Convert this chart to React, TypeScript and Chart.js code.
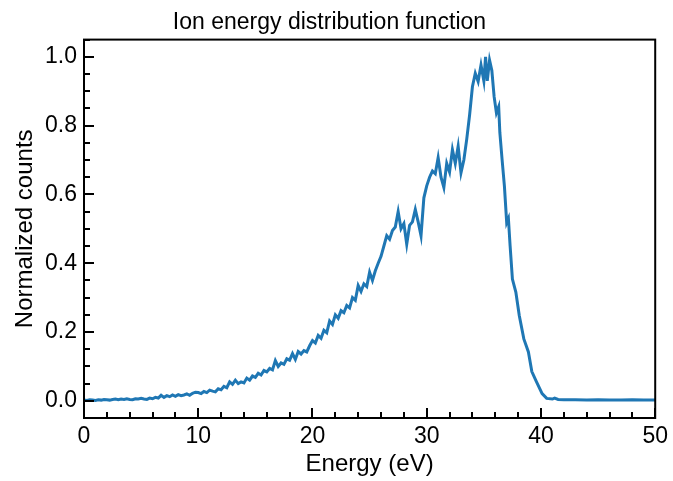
import React, { useEffect, useRef } from "react";
import { Chart, registerables } from "chart.js";

Chart.register(...registerables);

const titleText = "Ion energy distribution function";
const xLabel = "Energy (eV)";
const yLabel = "Normalized counts";

const xTicks = [0, 10, 20, 30, 40, 50];
const yTicks = [0.0, 0.2, 0.4, 0.6, 0.8, 1.0];

const energies = [
  0.0, 0.25, 0.5, 0.75, 1.0, 1.25, 1.5, 1.75, 2.0, 2.25, 2.5, 2.75, 3.0, 3.25, 3.5, 3.75,
  4.0, 4.25, 4.5, 4.75, 5.0, 5.25, 5.5, 5.75, 6.0, 6.25, 6.5, 6.75, 7.0, 7.25, 7.5, 7.75,
  8.0, 8.25, 8.5, 8.75, 9.0, 9.25, 9.5, 9.75, 10.0, 10.25, 10.5, 10.75, 11.0, 11.25, 11.5, 11.75,
  12.0, 12.25, 12.5, 12.75, 13.0, 13.25, 13.5, 13.75, 14.0, 14.25, 14.5, 14.75, 15.0, 15.25, 15.5, 15.75,
  16.0, 16.25, 16.5, 16.75, 17.0, 17.25, 17.5, 17.75, 18.0, 18.25, 18.5, 18.75, 19.0, 19.25, 19.5, 19.75,
  20.0, 20.25, 20.5, 20.75, 21.0, 21.25, 21.5, 21.75, 22.0, 22.25, 22.5, 22.75, 23.0, 23.25, 23.5, 23.75,
  24.0, 24.25, 24.5, 24.75, 25.0, 25.25, 25.5, 25.75, 26.0, 26.25, 26.5, 26.75, 27.0, 27.25, 27.5, 27.75,
  28.0, 28.25, 28.5, 28.75, 29.0, 29.25, 29.5, 29.75, 30.0, 30.25, 30.5, 30.75, 31.0, 31.25, 31.5, 31.75,
  32.0, 32.25, 32.5, 32.75, 33.0, 33.25, 33.5, 33.75, 34.0, 34.25, 34.5, 34.75, 35.0, 35.15, 35.3, 35.5,
  35.7, 35.9, 36.1, 36.3, 36.4, 36.6, 36.8, 37.0, 37.15, 37.3, 37.5, 37.8, 38.1, 38.5, 38.9, 39.2,
  39.6, 40.1, 40.5, 41.0, 41.2, 41.5, 42.0, 43.0, 44.0, 45.0, 46.0, 47.0, 48.0, 49.0, 50.0,
];

const counts = [
  0.002, 0.001, 0.003, 0.002, 0.001, 0.003, 0.002, 0.004, 0.003, 0.002, 0.004, 0.005, 0.003, 0.005, 0.004, 0.006,
  0.004, 0.003, 0.006, 0.005, 0.007, 0.005, 0.004, 0.008, 0.006, 0.010, 0.008, 0.016, 0.010, 0.015, 0.012, 0.017,
  0.013, 0.018, 0.015, 0.017, 0.020, 0.016, 0.022, 0.025, 0.024, 0.021, 0.027, 0.024, 0.031, 0.028, 0.026, 0.035,
  0.032, 0.042, 0.038, 0.055, 0.048, 0.060, 0.050, 0.055, 0.052, 0.066, 0.060, 0.072, 0.068, 0.080, 0.075, 0.088,
  0.084, 0.094, 0.090, 0.117, 0.100, 0.110, 0.106, 0.122, 0.118, 0.137, 0.120, 0.143, 0.136, 0.146, 0.142, 0.160,
  0.175, 0.168, 0.190, 0.182, 0.205, 0.198, 0.232, 0.222, 0.250, 0.240, 0.262, 0.256, 0.277, 0.270, 0.300, 0.292,
  0.335, 0.318, 0.340, 0.332, 0.374, 0.350, 0.378, 0.400, 0.420, 0.450, 0.480, 0.470, 0.495, 0.505, 0.550, 0.500,
  0.515, 0.455, 0.510, 0.520, 0.556, 0.520, 0.480, 0.590, 0.625, 0.650, 0.668, 0.660, 0.707, 0.650, 0.620, 0.690,
  0.665, 0.730, 0.690, 0.740, 0.663, 0.700, 0.760, 0.830, 0.913, 0.952, 0.928, 0.976, 0.930, 1.000, 0.930, 0.990,
  0.960, 0.884, 0.837, 0.855, 0.780, 0.700, 0.624, 0.518, 0.530, 0.450, 0.354, 0.316, 0.248, 0.180, 0.142, 0.085,
  0.056, 0.021, 0.007, 0.005, 0.008, 0.004, 0.003, 0.003, 0.002, 0.003, 0.002, 0.002, 0.003, 0.002, 0.002,
];

const FONT = "'Liberation Sans', Arial, Helvetica, sans-serif";

const frameTicks = {
  id: "frameTicks",
  afterDatasetsDraw(chart: any) {
    const { ctx, chartArea, scales } = chart;
    const xs = scales.x;
    const ys = scales.y;
    ctx.save();
    ctx.strokeStyle = "#000";
    ctx.lineWidth = 2;
    ctx.beginPath();
    for (let v = 0; v <= 50 + 1e-9; v += 2) {
      const px = Math.round(xs.getPixelForValue(v));
      const major = Math.abs(v % 10) < 1e-9;
      const len = major ? 10 : 6;
      ctx.moveTo(px, chartArea.bottom);
      ctx.lineTo(px, chartArea.bottom - len);
    }
    for (let i = -1; i <= 21; i++) {
      const v = i * 0.05;
      const py = Math.round(ys.getPixelForValue(v));
      const major = i % 4 === 0;
      const len = major ? 10 : 6;
      ctx.moveTo(chartArea.left, py);
      ctx.lineTo(chartArea.left + len, py);
    }
    ctx.stroke();
    ctx.lineWidth = 2;
    ctx.strokeRect(chartArea.left, chartArea.top, chartArea.right - chartArea.left, chartArea.bottom - chartArea.top);
    ctx.restore();
  },
};

export default function App() {
  const ref = useRef<HTMLCanvasElement | null>(null);
  useEffect(() => {
    if (!ref.current) return;
    const points = energies.map((e, i) => ({ x: e, y: counts[i] }));
    const chart = new Chart(ref.current, {
      type: "line",
      data: {
        datasets: [
          {
            data: points,
            borderColor: "#1f77b4",
            borderWidth: 3,
            pointRadius: 0,
            tension: 0,
            fill: false,
          },
        ],
      },
      options: {
        animation: false,
        responsive: false,
        layout: { padding: { left: 0, right: 14, top: 0, bottom: 0 } },
        plugins: {
          legend: { display: false },
          tooltip: { enabled: false },
          title: {
            display: true,
            text: titleText,
            color: "#000",
            font: { family: FONT, size: 23, weight: "normal" },
            padding: { top: 9, bottom: 3 },
          },
        },
        scales: {
          x: {
            type: "linear",
            min: 0,
            max: 50,
            afterBuildTicks: (s: any) => {
              s.ticks = xTicks.map((v) => ({ value: v }));
            },
            afterFit: (s: any) => {
              s.height = 63;
            },
            grid: { display: false, drawTicks: false },
            border: { display: false },
            ticks: {
              color: "#000",
              padding: 5,
              font: { family: FONT, size: 23 },
              maxRotation: 0,
              callback: (v: any) => String(v),
            },
            title: {
              display: true,
              text: xLabel,
              color: "#000",
              font: { family: FONT, size: 24 },
              padding: { top: 0, bottom: 2 },
            },
          },
          y: {
            type: "linear",
            min: -0.05,
            max: 1.05,
            afterBuildTicks: (s: any) => {
              s.ticks = yTicks.map((v) => ({ value: v }));
            },
            afterFit: (s: any) => {
              s.width = 84;
            },
            grid: { display: false, drawTicks: false },
            border: { display: false },
            ticks: {
              color: "#000",
              padding: 7,
              font: { family: FONT, size: 23 },
              callback: (v: any) => Number(v).toFixed(1),
            },
            title: {
              display: true,
              text: yLabel,
              color: "#000",
              font: { family: FONT, size: 24 },
              padding: { top: 11, bottom: 0 },
            },
          },
        },
      },
      plugins: [frameTicks],
    });
    return () => chart.destroy();
  }, []);
  return (
    <div style={{ position: "absolute", left: 0, top: 0, width: 673, height: 481, background: "#fff" }}>
      <canvas ref={ref} width={673} height={481} style={{ display: "block" }} />
    </div>
  );
}
